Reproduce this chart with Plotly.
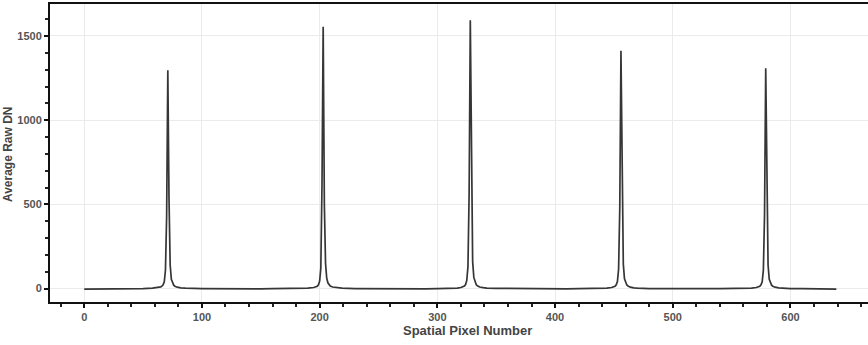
import plotly.graph_objects as go

# ---- data ----
base_x = [0, 10, 20, 30, 40, 50, 58,
          86, 100, 110, 120, 130, 140, 150, 160, 170, 180, 190,
          219, 230, 240, 250, 260, 270, 280, 290, 300, 310, 317,
          342, 350, 360, 370, 380, 390, 400, 410, 420, 430, 440, 444,
          470, 480, 490, 500, 510, 520, 530, 540, 550, 560, 567,
          593, 600, 610, 620, 630, 639]
base_y = [-3, -3, -2, -2, -1, 0, 2,
          2, 0, -1, -2, -2, -3, -2, -1, -1, 0, 2,
          2, 0, -1, -2, -2, -3, -2, -2, -1, 0, 2,
          2, 1, 0, -1, -2, -2, -3, -2, -1, -1, 0, 2,
          2, 0, -1, -2, -2, -2, -1, -1, 0, 0, 2,
          2, 0, -1, -2, -2, -3]

p1_x = [63, 65, 66, 67, 68, 69, 70, 71, 72, 73, 74, 75, 76, 77, 79, 82]
p1_y = [6, 10, 14, 22, 40, 110, 430, 1296, 540, 140, 55, 30, 20, 14, 8, 4]

p2_x = [195, 197, 198, 199, 200, 201, 202, 203, 204, 205, 206, 207, 208, 209, 211, 214]
p2_y = [6, 10, 14, 22, 44, 120, 620, 1555, 500, 150, 62, 34, 22, 15, 9, 5]

p3_x = [320, 322, 323, 324, 325, 326, 327, 328, 329, 330, 331, 332, 333, 334, 336, 339]
p3_y = [6, 10, 15, 24, 48, 130, 560, 1594, 640, 160, 66, 36, 24, 16, 9, 5]

p4_x = [448, 450, 451, 452, 453, 454, 455, 456, 457, 458, 459, 460, 461, 462, 464, 467]
p4_y = [6, 10, 14, 22, 42, 115, 480, 1413, 560, 145, 58, 32, 21, 15, 8, 4]

p5_x = [571, 573, 574, 575, 576, 577, 578, 579, 580, 581, 582, 583, 584, 585, 587, 590]
p5_y = [6, 10, 14, 22, 40, 110, 440, 1308, 520, 140, 55, 30, 20, 14, 8, 4]

x_ticks = [0, 100, 200, 300, 400, 500, 600]
y_ticks = [0, 500, 1000, 1500]

# merge into one sorted series
pts = sorted(zip(base_x + p1_x + p2_x + p3_x + p4_x + p5_x,
                 base_y + p1_y + p2_y + p3_y + p4_y + p5_y))
px = [p[0] for p in pts]
dn = [p[1] for p in pts]

fig = go.Figure()
fig.add_trace(go.Scatter(x=px, y=dn, mode="lines",
                         line=dict(color="#363636", width=1.7),
                         hoverinfo="skip", showlegend=False))

tickfont = dict(family="Liberation Sans, Arial, sans-serif", size=11,
                color="#555555", weight="bold")
titlefont = dict(family="Liberation Sans, Arial, sans-serif", size=12,
                 color="#444444", weight="bold")

fig.update_layout(
    width=868, height=345,
    margin=dict(l=50, r=0, t=4, b=43),
    paper_bgcolor="white", plot_bgcolor="white",
    xaxis=dict(range=[-29.1, 665.9], tickvals=x_ticks,
               ticktext=[str(v) for v in x_ticks],
               showline=True, linecolor="#111111", linewidth=2, mirror=True,
               ticks="outside", ticklen=4, tickwidth=2, tickcolor="#111111",
               minor=dict(dtick=20, tick0=0, ticks="outside", ticklen=3,
                          tickwidth=1.5, tickcolor="#222222", showgrid=False),
               showgrid=True, gridcolor="#ebebeb", gridwidth=1,
               zeroline=False, tickfont=tickfont),
    yaxis=dict(range=[-80, 1690], tickvals=y_ticks,
               ticktext=[str(v) for v in y_ticks],
               showline=True, linecolor="#111111", linewidth=2, mirror=False,
               ticks="outside", ticklen=4, tickwidth=2, tickcolor="#111111",
               minor=dict(dtick=100, tick0=0, ticks="outside", ticklen=3,
                          tickwidth=1.5, tickcolor="#222222", showgrid=False),
               showgrid=True, gridcolor="#ebebeb", gridwidth=1,
               zeroline=False, tickfont=tickfont),
    annotations=[
        dict(text="Spatial Pixel Number", xref="paper", yref="paper",
             x=0.511, y=-0.097, xanchor="center", yanchor="middle",
             showarrow=False, font=dict(titlefont, size=13)),
        dict(text="Average Raw DN", xref="paper", yref="paper",
             x=-0.052, y=0.498, xanchor="center", yanchor="middle",
             textangle=-90, showarrow=False, font=titlefont),
    ],
)

fig.write_html("out.html",
               config={"displayModeBar": False},
               post_script="document.body.style.margin='0';document.body.style.padding='0';")
